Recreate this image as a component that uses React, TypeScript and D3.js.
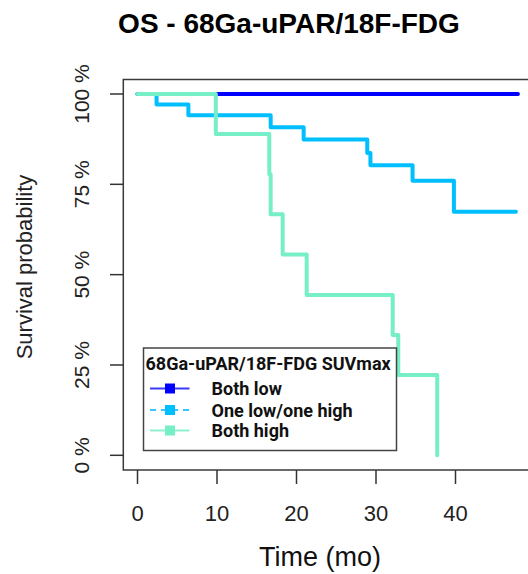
import React from 'react';
import * as d3 from 'd3';

const W = 528;
const H = 574;

// Kaplan-Meier step data
const bothLowTimes = [0, 47.85];
const bothLowSurv = [1, 1];

const oneHighTimes = [0, 2.4, 6.4, 16.75, 20.9, 28.9, 29.3, 34.6, 39.8, 47.6];
const oneHighSurv = [1, 0.971, 0.941, 0.908, 0.874, 0.837, 0.803, 0.76, 0.674, 0.674];

const bothHighTimes = [0, 9.85, 16.58, 16.75, 18.26, 21.28, 32.1, 32.8, 37.7, 37.7];
const bothHighSurv = [1, 0.889, 0.778, 0.667, 0.556, 0.444, 0.333, 0.222, 0, 0];

const xTicks = [0, 10, 20, 30, 40];
const yTicks = [0, 0.25, 0.5, 0.75, 1];
const yTickLabels = ['0 %', '25 %', '50 %', '75 %', '100 %'];

const groups = [
  { name: 'Both low', times: bothLowTimes, surv: bothLowSurv, color: '#0000ff', legendLine: '#3a3aff', dash: null },
  { name: 'One low/one high', times: oneHighTimes, surv: oneHighSurv, color: '#00bfff', legendLine: '#33c8ff', dash: '6,5' },
  { name: 'Both high', times: bothHighTimes, surv: bothHighSurv, color: '#76eec6', legendLine: '#8ef0cf', dash: null },
];

const axisFont = '"Liberation Sans", Arial, sans-serif';
const legendFont = 'Roboto, "Noto Sans", sans-serif';

export default function App() {
  const x = d3.scaleLinear().domain([0, 40]).range([137.5, 455.5]);
  const y = d3.scaleLinear().domain([0, 1]).range([455.3, 94]);

  const box = { left: 123.3, top: 79.5, bottom: 470, right: 560 };

  const line = d3
    .line<[number, number]>()
    .x(d => x(d[0]))
    .y(d => y(d[1]))
    .curve(d3.curveStepAfter);

  const legend = { left: 143.5, top: 348, right: 396.5, bottom: 450.5 };
  const rowY = [388.5, 410, 430.5];

  return (
    <svg width={W} height={H} style={{ position: 'absolute', left: 0, top: 0, background: '#fff' }}>
      <text x={289} y={33} textAnchor="middle" fontFamily={axisFont} fontWeight="bold" fontSize={28}>
        OS - 68Ga-uPAR/18F-FDG
      </text>

      {/* plot frame */}
      <path
        d={`M${box.right},${box.top}H${box.left}V${box.bottom}H${box.right}`}
        fill="none"
        stroke="#3a3a3a"
        strokeWidth={1.5}
      />

      {/* y axis ticks */}
      {yTicks.map((t, i) => (
        <g key={t}>
          <line x1={110} x2={box.left} y1={y(t)} y2={y(t)} stroke="#333" strokeWidth={1.5} />
          <text
            transform={`translate(88.5,${y(t)}) rotate(-90)`}
            textAnchor="middle"
            fontFamily={axisFont}
            fontSize={21}
            fill="#222"
          >
            {yTickLabels[i]}
          </text>
        </g>
      ))}

      {/* x axis ticks */}
      {xTicks.map(t => (
        <g key={t}>
          <line x1={x(t)} x2={x(t)} y1={box.bottom} y2={484} stroke="#333" strokeWidth={1.5} />
          <text x={x(t)} y={521} textAnchor="middle" fontFamily={axisFont} fontSize={22} fill="#222">
            {t}
          </text>
        </g>
      ))}

      <text x={320} y={566} textAnchor="middle" fontFamily={axisFont} fontSize={27} fill="#111">
        Time (mo)
      </text>
      <text
        transform="translate(32,267) rotate(-90)"
        textAnchor="middle"
        fontFamily={axisFont}
        fontSize={22}
        fill="#222"
      >
        Survival probability
      </text>

      {/* survival curves */}
      {groups.map(g => (
        <path
          key={g.name}
          d={line(g.times.map((t, i) => [t, g.surv[i]] as [number, number])) || ''}
          fill="none"
          stroke={g.color}
          strokeWidth={4}
          strokeLinecap="round"
          strokeLinejoin="round"
        />
      ))}

      {/* legend */}
      <rect
        x={legend.left}
        y={legend.top}
        width={legend.right - legend.left}
        height={legend.bottom - legend.top}
        fill="#fff"
        stroke="#444"
        strokeWidth={1.5}
      />
      <text x={145.5} y={370} fontFamily={legendFont} fontWeight="bold" fontSize={18} fill="#111">
        68Ga-uPAR/18F-FDG SUVmax
      </text>
      {groups.map((g, i) => (
        <g key={g.name}>
          <line
            x1={150}
            x2={189.5}
            y1={rowY[i]}
            y2={rowY[i]}
            stroke={g.legendLine}
            strokeWidth={2}
            strokeDasharray={g.dash || undefined}
          />
          <rect x={165} y={rowY[i] - 5} width={10} height={10} fill={g.color} />
          <text x={211.5} y={rowY[i] + 6.5} fontFamily={legendFont} fontWeight="bold" fontSize={18} fill="#111">
            {g.name}
          </text>
        </g>
      ))}
    </svg>
  );
}
